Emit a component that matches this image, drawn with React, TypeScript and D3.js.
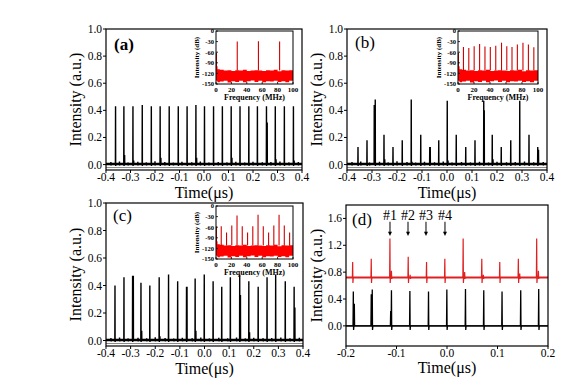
import React from 'react';
import * as d3 from 'd3';

// ---- data ----

// (a) time trace, μs / a.u.
const aPulseTimes = [-0.361, -0.327, -0.29, -0.252, -0.215, -0.179, -0.142, -0.105, -0.069, -0.033, 0.002, 0.039, 0.075, 0.111, 0.147, 0.183, 0.218, 0.255, 0.291, 0.328, 0.365];
const aPulseHeights = [0.43, 0.43, 0.43, 0.44, 0.43, 0.43, 0.43, 0.43, 0.43, 0.44, 0.43, 0.43, 0.43, 0.43, 0.43, 0.43, 0.43, 0.43, 0.43, 0.43, 0.43];
const aSubTimes = [-0.324, -0.287, -0.176, -0.03, 0.114, 0.258, 0.294, 0.368];
const aSubHeights = [0.07, 0.03, 0.05, 0.05, 0.05, 0.31, 0.04, 0.03];

// (b)
const bPulseTimes = [-0.356, -0.32, -0.287, -0.252, -0.216, -0.179, -0.143, -0.105, -0.069, -0.033, 0.001, 0.037, 0.075, 0.112, 0.147, 0.181, 0.217, 0.255, 0.291, 0.328, 0.363];
const bPulseHeights = [0.13, 0.18, 0.48, 0.22, 0.13, 0.18, 0.48, 0.22, 0.13, 0.18, 0.47, 0.22, 0.13, 0.18, 0.47, 0.22, 0.13, 0.18, 0.47, 0.22, 0.13];
const bSubTimes = [-0.291, -0.249, -0.14, -0.067, 0.004, 0.149, 0.184, 0.366];
const bSubHeights = [0.44, 0.04, 0.02, 0.13, 0.03, 0.4, 0.04, 0.11];

// (c)
const cPulseTimes = [-0.3635, -0.327, -0.292, -0.258, -0.222, -0.184, -0.146, -0.109, -0.073, -0.038, -0.001, 0.035, 0.07, 0.105, 0.143, 0.18, 0.218, 0.254, 0.289, 0.328, 0.364];
const cPulseHeights = [0.4, 0.46, 0.47, 0.42, 0.4, 0.46, 0.48, 0.43, 0.39, 0.45, 0.48, 0.43, 0.39, 0.46, 0.48, 0.43, 0.39, 0.46, 0.48, 0.43, 0.39];
const cSubTimes = [-0.289, -0.255, -0.181, -0.071, -0.035, 0.146, 0.183, 0.367];
const cSubHeights = [0.47, 0.07, 0.03, 0.39, 0.07, 0.33, 0.06, 0.24];

// small ripples on the baselines (a, b, c)
const rippleTimes = [-0.38, -0.345, -0.31, -0.27, -0.235, -0.2, -0.16, -0.125, -0.09, -0.05, -0.015, 0.02, 0.058, 0.094, 0.13, 0.166, 0.2, 0.238, 0.273, 0.31, 0.347, 0.385];
const rippleHeights = [0.018, 0.022, 0.015, 0.02, 0.016, 0.024, 0.018, 0.014, 0.02, 0.017, 0.022, 0.015, 0.019, 0.016, 0.021, 0.015, 0.02, 0.017, 0.018, 0.022, 0.016, 0.019];

// (d) red (offset) and black traces
const dRedTimes = [-0.1868, -0.15, -0.113, -0.0768, -0.0405, -0.0043, 0.032, 0.0689, 0.1045, 0.1413, 0.1776];
const dRedHeights = [0.95, 1.0, 1.3, 1.03, 0.95, 1.0, 1.3, 1.0, 0.95, 1.0, 1.3];
const dRedSubTimes = [-0.11, -0.073, 0.035, 0.072, 0.144, 0.181];
const dRedSubHeights = [0.82, 0.76, 0.8, 0.76, 0.78, 0.82];
const dBlackTimes = [-0.1855, -0.148, -0.11, -0.0735, -0.0366, -0.0003, 0.0366, 0.0728, 0.109, 0.146, 0.1816];
const dBlackHeights = [0.51, 0.54, 0.53, 0.52, 0.51, 0.54, 0.55, 0.53, 0.51, 0.53, 0.55];
const dBlackSubTimes = [-0.1835, -0.15, -0.1115];
const dBlackSubHeights = [0.33, 0.47, 0.22];
const dRedBase = 0.72;
const dMarkTimes = [-0.1129, -0.0772, -0.0416, -0.004];
const dMarkLabels = ['#1', '#2', '#3', '#4'];

// insets: RF spectra, MHz / dB
const aSpecFreqs = [0.6, 27.6, 55.1, 82.6];
const aSpecDb = [-62, -30, -29, -30];
const bSpecFreqs = [0.6, 6.8, 13.5, 20.2, 27.0, 33.7, 40.4, 47.2, 54.4, 61.0, 67.5, 74.2, 81.2, 88.0, 94.8];
const bSpecDb = [-62, -45, -48, -43, -37, -44, -45, -42, -33, -43, -45, -38, -33, -38, -46];
const cSpecFreqs = [0.6, 6.8, 13.7, 20.5, 27.3, 34.1, 41.0, 47.8, 54.6, 61.4, 68.3, 75.1, 81.9, 88.7, 95.6];
const cSpecDb = [-58, -57, -75, -55, -27, -57, -75, -57, -25, -57, -75, -55, -25, -55, -75];
const noiseFreqs = [0, 1, 2, 5, 10, 15, 20, 25, 30, 35, 40, 45, 50, 55, 60, 65, 70, 75, 80, 85, 90, 95, 100];
const noiseTop = [-90, -100, -108, -110, -112, -111, -113, -111, -112, -110, -113, -112, -111, -112, -113, -111, -112, -110, -114, -111, -112, -111, -113];
const noiseBottom = [-140, -142, -145, -143, -141, -146, -142, -144, -141, -145, -142, -140, -144, -141, -145, -142, -143, -141, -144, -142, -145, -141, -142];

const timeTicksAC = [-0.4, -0.3, -0.2, -0.1, 0.0, 0.1, 0.2, 0.3, 0.4];
const timeTicksD = [-0.2, -0.1, 0.0, 0.1, 0.2];
const intTicksAC = [0.0, 0.2, 0.4, 0.6, 0.8, 1.0];
const intTicksD = [0.0, 0.4, 0.8, 1.2, 1.6];
const dbTicks = [0, -30, -60, -90, -120, -150];
const mhzTicks = [0, 20, 40, 60, 80, 100];

const FONT = '"Liberation Serif", "DejaVu Serif", serif';

type Pulse = { t: number; h: number; dip: number };

function buildPulses(times: number[], heights: number[], dip: number): Pulse[] {
  return times.map((t, i) => ({ t, h: heights[i], dip }));
}

function tracePath(pulses: Pulse[], base: number, domain: number[], x: any, y: any) {
  const sorted = [...pulses].sort((p, q) => p.t - q.t);
  const pts: [number, number][] = [[domain[0], base]];
  sorted.forEach(p => {
    pts.push([p.t - 0.0006, base]);
    pts.push([p.t, p.h]);
    pts.push([p.t + 0.0005, p.dip]);
    pts.push([p.t + 0.0012, base]);
  });
  pts.push([domain[1], base]);
  return d3.line<[number, number]>().x(d => x(d[0])).y(d => y(d[1]))(pts) || '';
}

function Inset({ box, freqs, dbs }: { box: { x: number; y: number; w: number; h: number }; freqs: number[]; dbs: number[] }) {
  const x = d3.scaleLinear().domain([0, 100]).range([box.x, box.x + box.w]);
  const y = d3.scaleLinear().domain([0, -150]).range([box.y, box.y + box.h]);
  const band = d3.area<number>()
    .x((_, i) => x(noiseFreqs[i]))
    .y0((_, i) => y(noiseBottom[i]))
    .y1(d => y(d))
    .curve(d3.curveStepAfter)(noiseTop) || '';
  return (
    <g fontFamily={FONT} fontWeight="bold">
      <rect x={box.x} y={box.y} width={box.w} height={box.h} fill="#fff" />
      <path d={band} fill="#ff0000" />
      {freqs.map((f, i) => (
        <line key={i} x1={x(f)} x2={x(f)} y1={y(-112)} y2={y(dbs[i])} stroke="#d00000" strokeWidth={1.1} />
      ))}
      <rect x={box.x} y={box.y} width={box.w} height={box.h} fill="none" stroke="#000" strokeWidth={1} />
      {dbTicks.map(v => (
        <g key={v}>
          <line x1={box.x} x2={box.x + 2} y1={y(v)} y2={y(v)} stroke="#000" strokeWidth={0.8} />
          <text x={box.x - 2} y={y(v) + 2.3} fontSize={6.5} textAnchor="end">{v}</text>
        </g>
      ))}
      {mhzTicks.map(v => (
        <g key={v}>
          <line x1={x(v)} x2={x(v)} y1={box.y + box.h} y2={box.y + box.h - 2} stroke="#000" strokeWidth={0.8} />
          <text x={x(v)} y={box.y + box.h + 7.5} fontSize={7} textAnchor="middle">{v}</text>
        </g>
      ))}
      <text x={box.x + box.w / 2} y={box.y + box.h + 15.5} fontSize={8} textAnchor="middle">Frequency (MHz)</text>
      <text transform={`translate(${box.x - 17},${box.y + box.h / 2}) rotate(-90)`} fontSize={7} textAnchor="middle">Intensity (dB)</text>
    </g>
  );
}

type PanelProps = {
  box: { x: number; y: number; w: number; h: number };
  xDomain: number[];
  yDomain: number[];
  xTicks: number[];
  yTicks: number[];
  label: string;
  labelBold?: boolean;
  labelPos: [number, number];
  children?: (x: any, y: any) => React.ReactNode;
  titleYX: number;
  titleXY: number;
};

function Panel({ box, xDomain, yDomain, xTicks, yTicks, label, labelBold, labelPos, children, titleYX, titleXY }: PanelProps) {
  const x = d3.scaleLinear().domain(xDomain).range([box.x, box.x + box.w]);
  const y = d3.scaleLinear().domain(yDomain).range([box.y + box.h, box.y]);
  return (
    <g fontFamily={FONT}>
      <defs>
        <clipPath id={`clip-${label}`}>
          <rect x={box.x} y={box.y} width={box.w} height={box.h} />
        </clipPath>
      </defs>
      <g clipPath={`url(#clip-${label})`}>{children && children(x, y)}</g>
      <rect x={box.x} y={box.y} width={box.w} height={box.h} fill="none" stroke="#000" strokeWidth={1.2} />
      {yTicks.map(v => (
        <g key={v}>
          <line x1={box.x - 3} x2={box.x} y1={y(v)} y2={y(v)} stroke="#000" strokeWidth={1} />
          <text x={box.x - 4} y={y(v) + 4} fontSize={11.5} textAnchor="end">{v.toFixed(1)}</text>
        </g>
      ))}
      {xTicks.map(v => (
        <g key={v}>
          <line x1={x(v)} x2={x(v)} y1={box.y + box.h} y2={box.y + box.h + 3} stroke="#000" strokeWidth={1} />
          <text x={x(v)} y={box.y + box.h + 11} fontSize={11.5} textAnchor="middle">{v.toFixed(1)}</text>
        </g>
      ))}
      <text x={box.x + box.w / 2} y={titleXY} fontSize={16} textAnchor="middle">Time(μs)</text>
      <text transform={`translate(${titleYX},${box.y + box.h / 2}) rotate(-90)`} fontSize={16} textAnchor="middle">Intensity (a.u.)</text>
      <text x={labelPos[0]} y={labelPos[1]} fontSize={17} fontWeight={labelBold ? 'bold' : 'normal'}>({label})</text>
    </g>
  );
}

function timePanelContent(pulses: Pulse[]) {
  return (x: any, y: any) => (
    <g>
      <line x1={x(-0.4)} x2={x(0.4)} y1={y(-0.022)} y2={y(-0.022)} stroke="#8a8a8a" strokeWidth={1} />
      <line x1={x(-0.4)} x2={x(0.4)} y1={y(0.004)} y2={y(0.004)} stroke="#000" strokeWidth={2.4} />
      <path d={tracePath(pulses, 0.004, [-0.4, 0.4], x, y)} fill="none" stroke="#000" strokeWidth={1.4} />
    </g>
  );
}

export default function App() {
  const ripples = buildPulses(rippleTimes, rippleHeights, -0.006);
  const aPulses = [...buildPulses(aPulseTimes, aPulseHeights, -0.01), ...buildPulses(aSubTimes, aSubHeights, 0), ...ripples];
  const bPulses = [...buildPulses(bPulseTimes, bPulseHeights, -0.01), ...buildPulses(bSubTimes, bSubHeights, 0), ...ripples];
  const cPulses = [...buildPulses(cPulseTimes, cPulseHeights, -0.01), ...buildPulses(cSubTimes, cSubHeights, 0), ...ripples];
  const dRed = [...buildPulses(dRedTimes, dRedHeights, 0.64), ...buildPulses(dRedSubTimes, dRedSubHeights, 0.7)];
  const dBlack = [...buildPulses(dBlackTimes, dBlackHeights, -0.06), ...buildPulses(dBlackSubTimes, dBlackSubHeights, 0)];

  return (
    <svg width={588} height={387} style={{ position: 'absolute', left: 0, top: 0, background: '#fff' }}>
      <rect width={588} height={387} fill="#fff" />
      <Panel box={{ x: 106, y: 29, w: 196, h: 141 }} xDomain={[-0.4, 0.4]} yDomain={[-0.04, 1.0]}
        xTicks={timeTicksAC} yTicks={intTicksAC} label="a" labelBold labelPos={[114, 50]} titleYX={81} titleXY={198}>
        {timePanelContent(aPulses)}
      </Panel>
      <Inset box={{ x: 216, y: 31, w: 77, h: 53 }} freqs={aSpecFreqs} dbs={aSpecDb} />

      <Panel box={{ x: 347, y: 29, w: 200, h: 141 }} xDomain={[-0.4, 0.4]} yDomain={[-0.04, 1.0]}
        xTicks={timeTicksAC} yTicks={intTicksAC} label="b" labelPos={[355, 48]} titleYX={322} titleXY={198}>
        {timePanelContent(bPulses)}
      </Panel>
      <Inset box={{ x: 458, y: 31, w: 80, h: 53 }} freqs={bSpecFreqs} dbs={bSpecDb} />

      <Panel box={{ x: 106, y: 203, w: 197, h: 143 }} xDomain={[-0.4, 0.4]} yDomain={[-0.04, 1.0]}
        xTicks={timeTicksAC} yTicks={intTicksAC} label="c" labelPos={[113, 221]} titleYX={81} titleXY={374}>
        {timePanelContent(cPulses)}
      </Panel>
      <Inset box={{ x: 216, y: 206, w: 77, h: 53 }} freqs={cSpecFreqs} dbs={cSpecDb} />

      <Panel box={{ x: 346, y: 205, w: 202, h: 141 }} xDomain={[-0.2, 0.2]} yDomain={[-0.3, 1.8]}
        xTicks={timeTicksD} yTicks={intTicksD} label="d" labelPos={[352, 225]} titleYX={322} titleXY={373}>
        {(x: any, y: any) => (
          <g>
            <line x1={x(-0.2)} x2={x(0.2)} y1={y(dRedBase)} y2={y(dRedBase)} stroke="#e02020" strokeWidth={1.8} />
            <path d={tracePath(dRed, dRedBase, [-0.2, 0.2], x, y)} fill="none" stroke="#e02020" strokeWidth={1.2} />
            <line x1={x(-0.2)} x2={x(0.2)} y1={y(0)} y2={y(0)} stroke="#000" strokeWidth={1.4} />
            <path d={tracePath(dBlack, 0, [-0.2, 0.2], x, y)} fill="none" stroke="#000" strokeWidth={1.3} />
            {dMarkTimes.map((t, i) => (
              <g key={i}>
                <line x1={x(t)} x2={x(t)} y1={y(1.55)} y2={y(1.37)} stroke="#000" strokeWidth={1} />
                <path d={`M${x(t) - 2},${y(1.4)} L${x(t) + 2},${y(1.4)} L${x(t)},${y(1.34)} Z`} fill="#000" />
                <text x={x(t)} y={y(1.58)} fontSize={14} textAnchor="middle">{dMarkLabels[i]}</text>
              </g>
            ))}
          </g>
        )}
      </Panel>
    </svg>
  );
}
